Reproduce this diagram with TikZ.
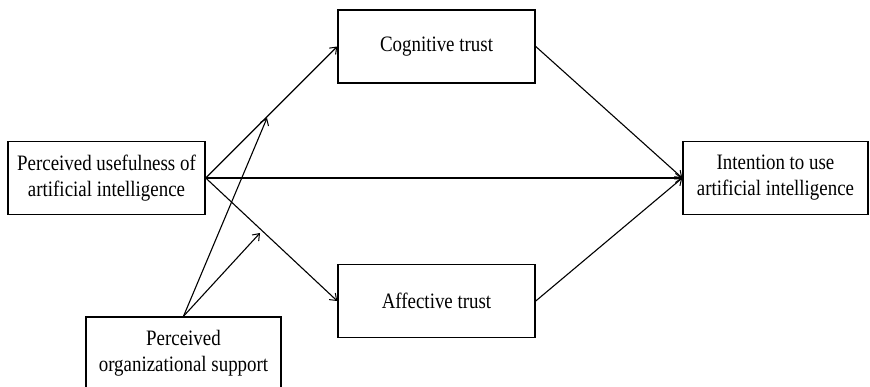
\documentclass[tikz,border=0pt]{standalone}
\usepackage{fontspec}
\setmainfont{Liberation Serif}[FakeStretch=0.86]
\usetikzlibrary{arrows.meta,calc}
\tikzset{
  box/.style={draw, line width=1.5pt, minimum width=197pt, minimum height=73pt, inner sep=0pt, align=center,
    font=\fontsize{22pt}{26pt}\selectfont},
  conn/.style={line width=1.1pt, -{Straight Barb[length=6pt,width=9pt,line width=1pt]}}
}
\begin{document}
\begin{tikzpicture}[x=1pt,y=-1pt]
\useasboundingbox (0,0) rectangle (870,387);
\node[box] (PU) at (106.5,178) {Perceived usefulness of\\artificial intelligence};
\node[box] (Cog) at (436.5,46.5) {Cognitive trust};
\node[box] (Aff) at (436.5,301) {Affective trust};
\node[box, minimum width=185pt] (Int) at (775.5,178) {Intention to use\\artificial intelligence};
\node[box, minimum width=195pt] (POS) at (183.5,353.5) {Perceived\\organizational support};
\coordinate (m1) at (267,118);
\coordinate (m2) at (260,233);
\draw[conn] (PU.east) -- (Cog.west);
\draw[conn] (PU.east) -- (Int.west);
\draw[conn] (PU.east) -- (Aff.west);
\draw[conn] (Cog.east) -- (Int.west);
\draw[conn] (Aff.east) -- (Int.west);
\draw[conn] (POS.north) -- (m1);
\draw[conn] (POS.north) -- (m2);
\end{tikzpicture}
\end{document}
